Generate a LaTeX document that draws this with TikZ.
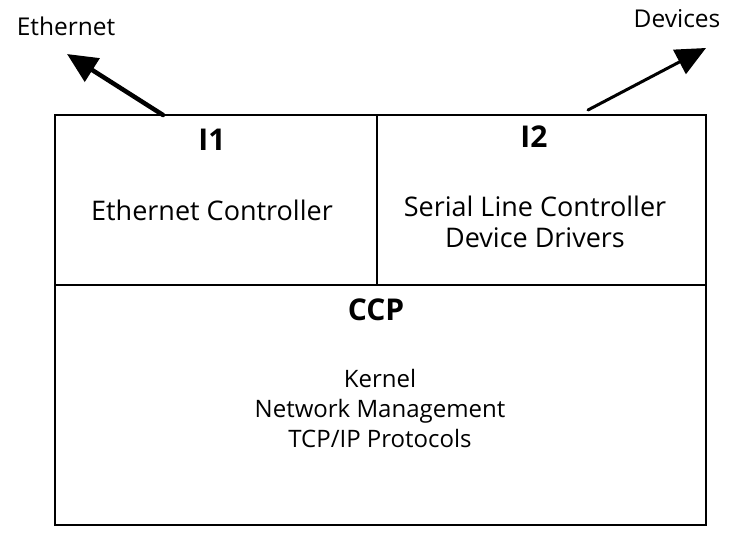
\documentclass[tikz,border=0pt]{standalone}
\usepackage{fontspec}
\setmainfont{Open Sans}
\usetikzlibrary{arrows.meta}
\begin{document}
\begin{tikzpicture}[x=1pt,y=-1pt,
  cell/.style={draw,line width=1.6pt,minimum width=#1,inner sep=0pt,outer sep=0pt,anchor=north west},
  title/.style={font=\fontsize{30}{36}\selectfont\bfseries,anchor=base,inner sep=0pt},
  body/.style={font=\fontsize{27}{31}\selectfont,align=center,anchor=base,inner sep=0pt},
  corebody/.style={font=\fontsize{24}{30}\selectfont,align=center,anchor=base,inner sep=0pt},
  label/.style={font=\fontsize{24.5}{28}\selectfont,anchor=base,inner sep=0pt},
  link/.style={-{Triangle[length=30pt,width=27pt]},line cap=round}]
\useasboundingbox (0,0) rectangle (729,533);
% layer boxes
\node[cell=322pt,minimum height=170pt] (i1box) at (55,115) {};
\node[cell=329pt,minimum height=170pt] (i2box) at (377,115) {};
\node[cell=651pt,minimum height=240pt] (ccpbox) at (55,285) {};
% box contents (multi-line nodes sit on the baseline of their last line)
\node[title] (i1) at (212,150) {I1};
\node[body] (ethctl) at (212,220) {Ethernet Controller};
\node[title] (i2) at (534,147) {I2};
\node[body] (serial) at (535,247) {Serial Line Controller\\Device Drivers};
\node[title] (ccp) at (376,320) {CCP};
\node[corebody] (kernel) at (380,447) {Kernel\\Network Management\\TCP/IP Protocols};
% outside labels
\node[label] (ethlbl) at (66,35) {Ethernet};
\node[label] (devlbl) at (677,27) {Devices};
% outgoing links
\coordinate (ethfoot) at (163,115);
\coordinate (ethtip) at (67,54);
\coordinate (devfoot) at (588,110);
\coordinate (devtip) at (706,48);
\draw[link,line width=4.5pt] (ethfoot) -- (ethtip);
\draw[link,line width=3pt] (devfoot) -- (devtip);
\end{tikzpicture}
\end{document}
